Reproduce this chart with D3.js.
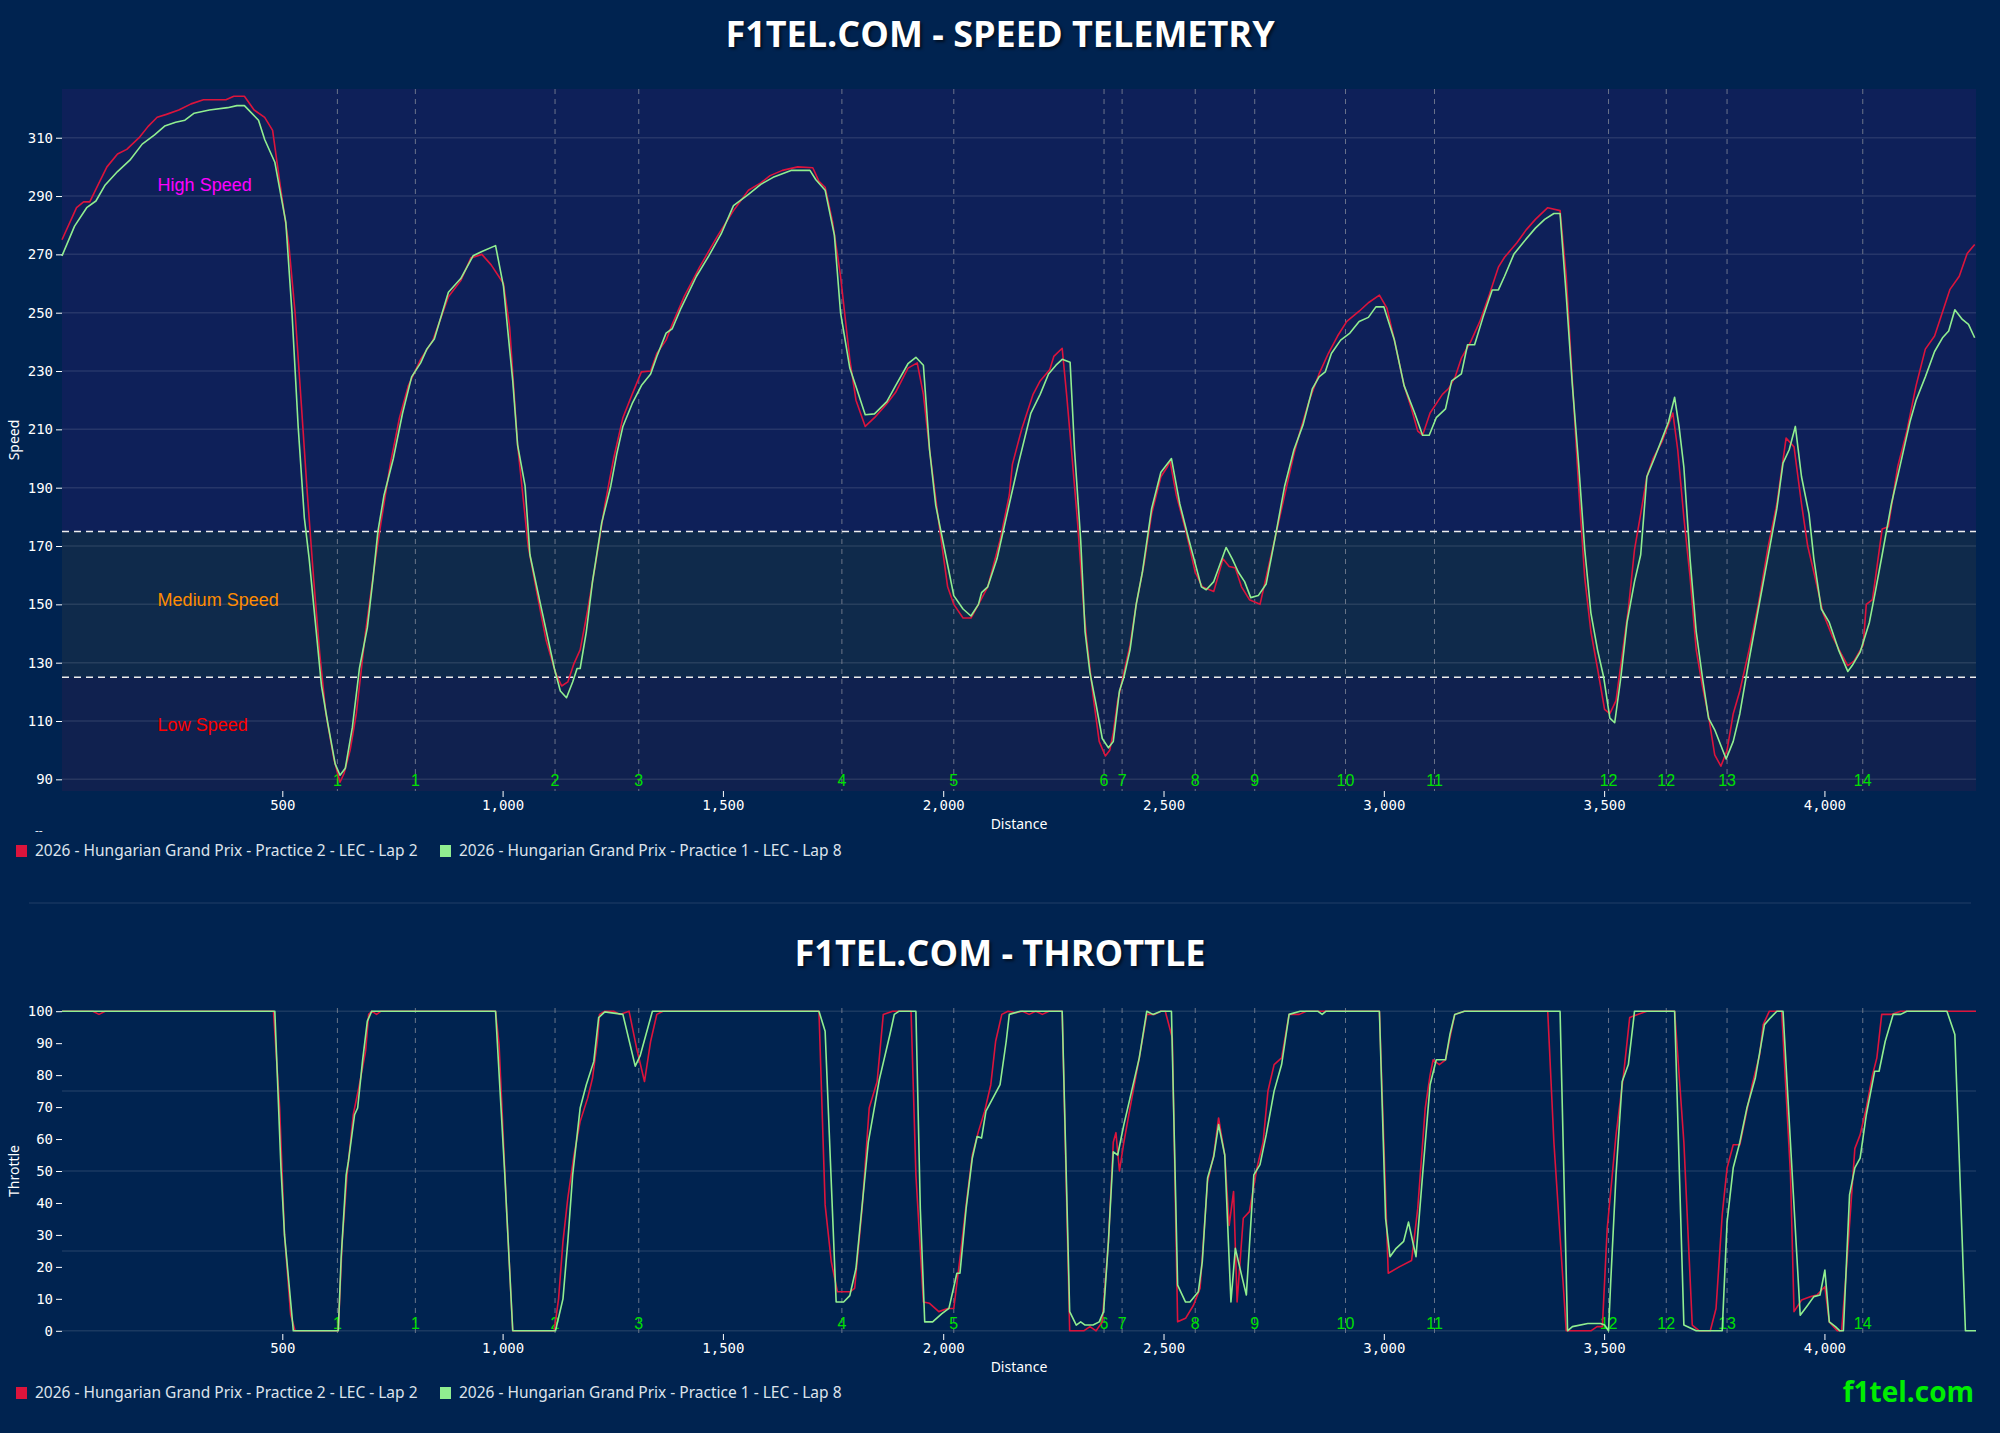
<!DOCTYPE html>
<html lang="en">
<head>
    <meta charset="UTF-8">
    <title>F1TEL.COM - Telemetry</title>
    <script src="https://d3js.org/d3.v7.min.js"></script>
    <style>
        body { margin: 0; background: #002350; }
        .axis .tick text { font: 14px "DejaVu Sans Mono", monospace; fill: #ffffff; }
        .axis .tick line { stroke: #ffffff; }
        .axis .domain { display: none; }
        .title { font: bold 36px "Open Sans", sans-serif; fill: #ffffff; text-shadow: 2px 2px 3px rgba(0, 0, 0, 0.6); }
        .axis-label { font: 14px "Noto Sans", sans-serif; fill: #ffffff; }
        .legend text { font: 15.5px "Noto Sans", sans-serif; fill: #dde3ec; }
        .legend text.legend-title { font-size: 12px; }
        .zone-label { font: 18px "Liberation Sans", Arial, sans-serif; }
        .corner-label { font: 16px "Liberation Sans", Arial, sans-serif; fill: #00e000; }
    </style>
</head>
<body>
<svg id="chart" width="2000" height="1433"></svg>
<script>
    // series names and colours
    const seriesNames = ["2026 - Hungarian Grand Prix - Practice 2 - LEC - Lap 2",
        "2026 - Hungarian Grand Prix - Practice 1 - LEC - Lap 8"];
    const seriesColors = ["#dc143c", "#90ee90"];

    // corners [label, distance]
    const corners = [["1", 625], ["1", 802], ["2", 1119], ["3", 1309], ["4", 1770], ["5", 2024],
        ["6", 2365], ["7", 2406], ["8", 2572], ["9", 2707], ["10", 2913], ["11", 3115],
        ["12", 3510], ["12", 3641], ["13", 3779], ["14", 4087]];

    const distTicks = [500, 1000, 1500, 2000, 2500, 3000, 3500, 4000];
    const speedTicks = [90, 110, 130, 150, 170, 190, 210, 230, 250, 270, 290, 310];
    const throttleTicks = [0, 10, 20, 30, 40, 50, 60, 70, 80, 90, 100];
    const throttleGrid = [0, 25, 50, 75, 100];

    // speed zones: [label, from, to, text colour, text position]
    const speedZones = [["High Speed", 175, 400, "#ff00ff", 291.8],
        ["Medium Speed", 125, 175, "#ff8c00", 149.6],
        ["Low Speed", 0, 125, "#ff0000", 106.6]];
    const zoneFills = ["#0e2059", "#0f2a4b", "#10214f"];
    const zoneLines = [175, 125];

    // speed [distance, km/h]
    const speedLap2 = [[0,275],[33,286],[49,288],[63,288],[84,294.5],[102,300],[126,304.4],[147,306],[175,310],[195,313.8],
        [216,317],[237,318],[265,319.5],[293,321.6],[321,323],[372,323],[390,324.2],[414,324.2],[436,319.5],[460,317],
        [478,312.5],[494,295],[515,273],[529,250],[543,219],[557,187.5],[571,159],[585,133],[599,112.5],[617,97],
        [631,89],[640,92],[654,100],[668,112.5],[689,140.6],[710,164],[724,178],[745,198],[766,214],[786,225],
        [814,234],[842,240.6],[877,255.5],[905,261],[928,268.8],[953,270],[974,266.4],[1002,260],[1016,245],[1034,204.7],
        [1058,170],[1079,153],[1099,137.5],[1120,126.6],[1134,122],[1148,123.4],[1162,129.7],[1176,134.4],[1193,148],[1211,164],
        [1232,184],[1252,200],[1273,214],[1294,222],[1315,229.7],[1336,230],[1350,236],[1371,240.6],[1385,246],[1412,255.5],
        [1447,265.6],[1489,276.6],[1524,285],[1558,292],[1586,294.5],[1607,297],[1635,298.8],[1670,300],[1704,299.7],[1718,295],
        [1732,293],[1749,281],[1767,262.5],[1788,234],[1802,220],[1823,211],[1844,214],[1872,218.8],[1892,222.7],[1920,231],
        [1941,232.8],[1955,222],[1969,203],[1990,178],[2010,156],[2024,150],[2045,145.3],[2063,145.3],[2080,150],[2101,156],
        [2129,172],[2150,187.5],[2157,198],[2178,210],[2204,222],[2220,226.6],[2242,230.5],[2251,235],[2270,237.8],[2280,222],
        [2291,203],[2305,178],[2319,148.4],[2326,137.5],[2340,118.75],[2354,103],[2368,98],[2378,100],[2386,106],[2396,117],
        [2410,126.6],[2424,136],[2438,150],[2456,164],[2473,181],[2494,193.75],[2508,197],[2515,199],[2529,187.5],[2551,175],
        [2572,161],[2588,156],[2614,154.4],[2635,165.6],[2649,163],[2663,162.5],[2677,156],[2695,151.6],[2719,150],[2740,164],
        [2761,178],[2775,187.5],[2796,201.5],[2810,209.4],[2831,220],[2853,229],[2874,236],[2895,242],[2916,247],[2944,250.5],
        [2965,253.4],[2990,256],[3007,251.6],[3024,240.6],[3046,225],[3063,217],[3077,209.4],[3088,208],[3105,215.6],[3133,222],
        [3147,224],[3162,228],[3176,234.4],[3197,240],[3218,247],[3239,256],[3260,265.6],[3274,269],[3302,274],[3323,278.4],
        [3344,282],[3372,286],[3400,285],[3414,262.5],[3428,226.6],[3442,190.6],[3456,159],[3470,140.6],[3485,128],[3501,114],
        [3513,112.5],[3527,117],[3541,132.8],[3555,148.4],[3569,168.8],[3583,181],[3597,193.75],[3611,200],[3632,206],[3656,215.6],
        [3667,203],[3681,179.7],[3695,159.4],[3709,134.4],[3723,122],[3737,111.7],[3751,98.4],[3765,94.5],[3779,100],[3793,112.5],
        [3808,120.3],[3829,134.4],[3850,150],[3871,168.8],[3892,184.4],[3913,207],[3931,204],[3948,184.4],[3962,170],[3976,161],
        [3997,147],[4018,139],[4039,132.8],[4053,129],[4067,130.5],[4088,136],[4095,150],[4109,151.6],[4131,175.8],[4145,176.6],
        [4166,197],[4187,209.4],[4208,225],[4229,237.5],[4250,242],[4271,251.6],[4285,258],[4306,262.5],[4324,270.3],[4341,273.4]];

    const speedLap8 = [[0,269.5],[28.5,279.7],[56,286],[77,288.3],[98,293.8],[126,298.4],[154,302.3],[182,307.8],[210,311],[233,314],
        [258,315.3],[279,316],[300,318.4],[334.5,319.5],[376,320.3],[397,321],[414,321],[446,316],[460,309.4],[483,301.6],
        [508,281],[522,250],[536,211],[550,179.7],[561,165.6],[575,143.8],[589,122],[603,109.4],[620,95.3],[631,91.4],
        [643,93.8],[659,107.8],[675,128],[693,142],[706,159],[717,175],[731,187.5],[752,200],[773,215.6],[793.5,228],
        [814,232.8],[828,237.5],[845,241],[877,257],[905,261.7],[933,269.5],[953,271],[984,273],[1002,259],[1023,226.6],
        [1034,204.7],[1051,190.6],[1062,167],[1086,150],[1106,136],[1117.5,128],[1131,120.3],[1145,118],[1159,123.4],[1169,128],
        [1176,128],[1190,140.6],[1204,157.8],[1225,178],[1245.5,190.6],[1259,201.5],[1273,211],[1294,218.8],[1315,225],[1336,229],
        [1350,235],[1371,243],[1385,244.5],[1405,251.6],[1440,262.5],[1468,269.5],[1496,277],[1524,286.7],[1558,290.6],[1586,294],
        [1614,296.4],[1656,298.8],[1697.5,298.8],[1711,295.6],[1732,292],[1753,276.6],[1767,250],[1788,231],[1802,224.7],[1823,215],
        [1844,215.3],[1872,219.5],[1892,225],[1920,232.5],[1938,234.7],[1955,232],[1969,203],[1983,184],[2003,168.8],[2024,153],
        [2045,148.4],[2063,146],[2080,150],[2087,154],[2101,156],[2122,165.6],[2150,184.4],[2171,198.4],[2199,215.6],[2220,222],
        [2239,229],[2256,232],[2270,234],[2288,233],[2298,203],[2312,172],[2322,140.6],[2333,126.6],[2347,115.6],[2361,104],
        [2375,100.8],[2386,103],[2400,120.3],[2410,125],[2424,134.4],[2438,150],[2452,161],[2473,182.8],[2494,195.3],[2518,200],
        [2537,184.4],[2558,171.9],[2586,156],[2597,155],[2614,157.8],[2642,169.5],[2656,165.6],[2670,161],[2684,157.8],[2698,152.3],
        [2715,153],[2733,157],[2754,173.4],[2775,190.6],[2796,203],[2817,211.7],[2838,224],[2853,228],[2867,229.7],[2881,236],
        [2902,240.6],[2923,243],[2944,247],[2965,248.4],[2982,252],[3000,252],[3024,240.6],[3046,225],[3070,215.6],[3088,208],
        [3103,208],[3119,214],[3140,217],[3154,226.6],[3176,229],[3190,239],[3206,239],[3225,248.4],[3246,257.8],[3260,257.8],
        [3274,262.5],[3295,270],[3316,274],[3344,279],[3365,282],[3386,284],[3400,284],[3414,256],[3428,225],[3442,198.4],
        [3456,168.8],[3470,147],[3485,134.4],[3499,125],[3513,111],[3524,109.4],[3538,125],[3552,143.8],[3569,157.8],[3583,167],
        [3597,193.75],[3614,200],[3632,207],[3646,212.5],[3660,221],[3670,211],[3681,197],[3695,165.6],[3709,140.6],[3723,125],
        [3737,111],[3751,107],[3765,101.6],[3777,97],[3793,103],[3808,112.5],[3829,131],[3850,148.4],[3871,165.6],[3892,182.8],
        [3906,198.4],[3920,203],[3934,211],[3948,193.75],[3965,181],[3976,165.6],[3993,148.4],[4011,143.8],[4032,134.4],[4053,127],
        [4063,129],[4081,133.6],[4102,143.8],[4116,154.7],[4131,167],[4152,184.4],[4173,198.4],[4194,212.5],[4208,220],[4229,228],
        [4250,236.7],[4268,241.4],[4282,243.75],[4296,251],[4313,247.7],[4327,246],[4341,241.4]];

    // throttle [distance, %]
    const throttleLap2 = [[0,100],[70,100],[84,99],[98,100],[480,100],[494,69.7],[505,30],[519,5],[529,0],[627,0],
        [636,28],[647,48.8],[661,67.6],[675,77],[689,87.5],[696,99],[703,100],[714,99],[724,100],[984,100],
        [992,89.5],[1009,38],[1023,0],[1117,0],[1127,10],[1137,28],[1148,41.5],[1162,55],[1176,65.5],[1193,72.8],
        [1204,79],[1215,90.6],[1220,99],[1232,100],[1252,100],[1266,99],[1287,100],[1304,88.5],[1322,78],[1336,90.6],
        [1350,99],[1364,100],[1718,100],[1732,39.4],[1746,21.6],[1760,12.2],[1788,12.2],[1799,13.3],[1816,38.3],[1832,69.7],
        [1850,78],[1864,99],[1885,100],[1927,100],[1938,48.8],[1955,9],[1969,8.6],[1990,6],[2010,7],[2024,7],
        [2038,22.7],[2052,39.4],[2066,55],[2080,62.4],[2094,68.7],[2108,77],[2119,90.6],[2133,99],[2147,100],[2165,99.5],
        [2180,100],[2195,99],[2210,100],[2225,99],[2240,100],[2270,100],[2287,0],[2319,0],[2333,1.3],[2347,0],
        [2361,2.8],[2375,28],[2386,59],[2392,62],[2400,50],[2410,59],[2424,69.7],[2445,85.4],[2462,99],[2480,99],
        [2494,100],[2504,100],[2520,91.6],[2532,2.8],[2550,3.9],[2568,8],[2583,13.3],[2600,46.7],[2614,55],[2625,66.6],
        [2639,55],[2649,33],[2659,43.6],[2667,9],[2681,35.2],[2695,37.3],[2712,50.9],[2726,59],[2737,75],[2751,83.3],
        [2768,85.4],[2785,99],[2808,99],[2824,100],[2990,100],[3000,59],[3010,18],[3035,20],[3063,22],[3077,38.3],
        [3094,69.7],[3105,80],[3112,84.8],[3126,83.3],[3140,84.8],[3150,91.6],[3161,99],[3183,100],[3372,100],[3386,59],
        [3414,0],[3470,0],[3484,1.3],[3496,1.3],[3507,32],[3527,61.3],[3544,80],[3558,98],[3576,99],[3597,100],
        [3660,100],[3681,59],[3700,1.8],[3716,0],[3741,0],[3754,7],[3768,36.3],[3779,50.9],[3793,58.2],[3808,58.2],
        [3822,67.6],[3836,77],[3853,86.4],[3861,95.8],[3875,100],[3903,100],[3923,48.8],[3931,6],[3948,9.6],[3969,10.7],
        [3983,11.2],[4001,13.8],[4011,2.8],[4029,0],[4039,0],[4049,17.5],[4069,57],[4081,61.3],[4095,69.7],[4109,80],
        [4119,85.4],[4130,99],[4151,99],[4173,100],[4344,100]];

    const throttleLap8 = [[0,100],[483,100],[497,50.9],[505,30],[525,0],[627,0],[633.5,22.7],[645,48.8],[650,53],[664,67.6],
        [671,69.7],[682,84.3],[693,96.9],[703,100],[984,100],[1005,48.8],[1023,0],[1120,0],[1137,10],[1148,28],
        [1159,48.8],[1176,69.7],[1190,77],[1207,84.3],[1218,98],[1232,99.8],[1273,99],[1301,82.8],[1312,86],[1340,100],
        [1718,100],[1732,93.7],[1757,9],[1774,9],[1788,11],[1802,19.5],[1830,59],[1855,78.6],[1879,92.7],[1889,99],
        [1900,100],[1938,100],[1948,38.3],[1958,2.8],[1976,2.8],[1997,5.4],[2013,7],[2031,18],[2038,18],[2052,38.3],
        [2066,54],[2077,60.8],[2087,60.3],[2097,68.7],[2129,77],[2143,90.6],[2150,99],[2175,100],[2270,100],[2287,6],
        [2302,1.8],[2312,2.8],[2322,1.8],[2340,1.8],[2354,2.8],[2364,6],[2375,28],[2386,56],[2396,55],[2410,64.5],
        [2424,72.8],[2445,85.4],[2462,100],[2476,99],[2494,100],[2518,100],[2532,14.3],[2550,9],[2560,9],[2579,12.2],
        [2588,21.6],[2600,47.8],[2614,54.5],[2625,64.5],[2639,55],[2653,9],[2663,25.8],[2677,17.5],[2688,11.2],[2705,48.8],
        [2719,52],[2733,61.3],[2751,75],[2768,83.3],[2785,99],[2810,100],[2850,100],[2860,99],[2869,100],[2990,100],
        [3004,35.2],[3014,23.2],[3028,25.8],[3045,28],[3056,34],[3073,23.2],[3088,48.8],[3105,77],[3119,84.8],[3140,84.8],
        [3150,92.7],[3161,99],[3183,100],[3400,100],[3417,0],[3428,1.3],[3463,2.3],[3492,2.3],[3501,1.8],[3510,0],
        [3515,15.4],[3527,48.8],[3541,78],[3555,83.3],[3569,100],[3660,100],[3681,1.8],[3709,0],[3768,0],[3779,34],
        [3793,51],[3808,59],[3824,69.7],[3843,79],[3864,95.8],[3878,98],[3892,100],[3906,100],[3945,4.9],[3962,8],
        [3976,10.7],[3990,11.2],[4001,19],[4011,2.8],[4025,1.3],[4035,0],[4043,0],[4057,42.5],[4069,51],[4081,54],
        [4095,67.6],[4114,81.2],[4124,81.2],[4138,90.6],[4156,99],[4173,99],[4187,100],[4278,100],[4296,92.7],[4320,0],
        [4344,0]];

    const svg = d3.select("#chart");
    const left = 62, right = 1976;
    const x = d3.scaleLinear().domain([0, 4344]).range([left, right]);

    svg.append("rect").attr("width", 2000).attr("height", 1433).attr("fill", "#002350");

    function drawPanel(p) {
        const y = d3.scaleLinear().domain(p.yDomain).range([p.bottom, p.top]);
        const g = svg.append("g");

        g.append("text").attr("class", "title")
            .attr("x", 1000).attr("y", p.titleY)
            .attr("text-anchor", "middle").text(p.title);

        // zone backgrounds
        if (p.zones) {
            p.zones.forEach(function (z, i) {
                const y0 = y(Math.min(z[2], p.yDomain[1])), y1 = y(Math.max(z[1], p.yDomain[0]));
                g.append("rect").attr("x", left).attr("y", y0)
                    .attr("width", right - left).attr("height", y1 - y0)
                    .attr("fill", zoneFills[i]);
            });
        }

        // grid
        g.append("g").selectAll("line").data(p.grid).enter().append("line")
            .attr("x1", left).attr("x2", right)
            .attr("y1", function (d) { return y(d); }).attr("y2", function (d) { return y(d); })
            .attr("stroke", "#ffffff").attr("stroke-opacity", 0.1).attr("stroke-width", 1.5);

        // corner markers
        g.append("g").selectAll("line").data(corners).enter().append("line")
            .attr("x1", function (d) { return x(d[1]); }).attr("x2", function (d) { return x(d[1]); })
            .attr("y1", p.top).attr("y2", p.bottom)
            .attr("stroke", "#8a8f9c").attr("stroke-opacity", 0.75)
            .attr("stroke-dasharray", "5,5").attr("stroke-width", 1);

        if (p.zones) {
            g.append("g").selectAll("line").data(zoneLines).enter().append("line")
                .attr("x1", left).attr("x2", right)
                .attr("y1", function (d) { return y(d); }).attr("y2", function (d) { return y(d); })
                .attr("stroke", "#eeeeee").attr("stroke-width", 1.6).attr("stroke-dasharray", "7,5");

            g.append("g").selectAll("text").data(p.zones).enter().append("text")
                .attr("class", "zone-label")
                .attr("x", x(217)).attr("y", function (d) { return y(d[4]); })
                .attr("fill", function (d) { return d[3]; })
                .text(function (d) { return d[0]; });
        }

        g.append("g").selectAll("text").data(corners).enter().append("text")
            .attr("class", "corner-label")
            .attr("x", function (d) { return x(d[1]); }).attr("y", p.bottom - 5)
            .attr("text-anchor", "middle")
            .text(function (d) { return d[0]; });

        // lines
        const line = d3.line()
            .x(function (d) { return x(d[0]); })
            .y(function (d) { return y(d[1]); });
        p.series.forEach(function (s, i) {
            g.append("path").datum(s)
                .attr("fill", "none")
                .attr("stroke", seriesColors[i])
                .attr("stroke-width", 1.6)
                .attr("stroke-linejoin", "round")
                .attr("d", line);
        });

        // axes
        g.append("g").attr("class", "axis")
            .attr("transform", "translate(" + left + ",0)")
            .call(d3.axisLeft(y).tickValues(p.yTicks).tickFormat(d3.format("d")));
        g.append("g").attr("class", "axis")
            .attr("transform", "translate(0," + p.bottom + ")")
            .call(d3.axisBottom(x).tickValues(distTicks).tickFormat(d3.format(",")));

        g.append("text").attr("class", "axis-label")
            .attr("transform", "translate(19," + ((p.top + p.bottom) / 2) + ") rotate(-90)")
            .attr("text-anchor", "middle").text(p.yLabel);
        g.append("text").attr("class", "axis-label")
            .attr("x", (left + right) / 2).attr("y", p.bottom + 38)
            .attr("text-anchor", "middle").text("Distance");

        // legend
        const lg = g.append("g").attr("class", "legend");
        if (p.legendTitle) {
            lg.append("text").attr("class", "legend-title")
                .attr("x", 35).attr("y", p.legendY - 15).text("--");
        }
        const items = [{sx: 16, tx: 35}, {sx: 440, tx: 459}];
        items.forEach(function (it, i) {
            lg.append("rect").attr("x", it.sx).attr("y", p.legendY - 5)
                .attr("width", 11).attr("height", 12).attr("fill", seriesColors[i]);
            lg.append("text").attr("x", it.tx).attr("y", p.legendY + 6).text(seriesNames[i]);
        });
    }

    drawPanel({
        title: "F1TEL.COM - SPEED TELEMETRY", titleY: 47,
        top: 89, bottom: 791, yDomain: [86, 326.7],
        yTicks: speedTicks, grid: speedTicks, yLabel: "Speed",
        zones: speedZones, series: [speedLap2, speedLap8],
        legendY: 850, legendTitle: true
    });

    svg.append("line").attr("x1", 29).attr("x2", 1971).attr("y1", 903).attr("y2", 903)
        .attr("stroke", "#ffffff").attr("stroke-opacity", 0.13);

    drawPanel({
        title: "F1TEL.COM - THROTTLE", titleY: 966,
        top: 1008, bottom: 1334, yDomain: [-1, 101],
        yTicks: throttleTicks, grid: throttleGrid, yLabel: "Throttle",
        series: [throttleLap2, throttleLap8],
        legendY: 1392, legendTitle: false
    });

    svg.append("text")
        .attr("x", 1974).attr("y", 1402)
        .attr("text-anchor", "end")
        .style("font", "bold 28px 'Open Sans', sans-serif")
        .attr("fill", "#00ee00")
        .text("f1tel.com");
</script>
</body>
</html>
